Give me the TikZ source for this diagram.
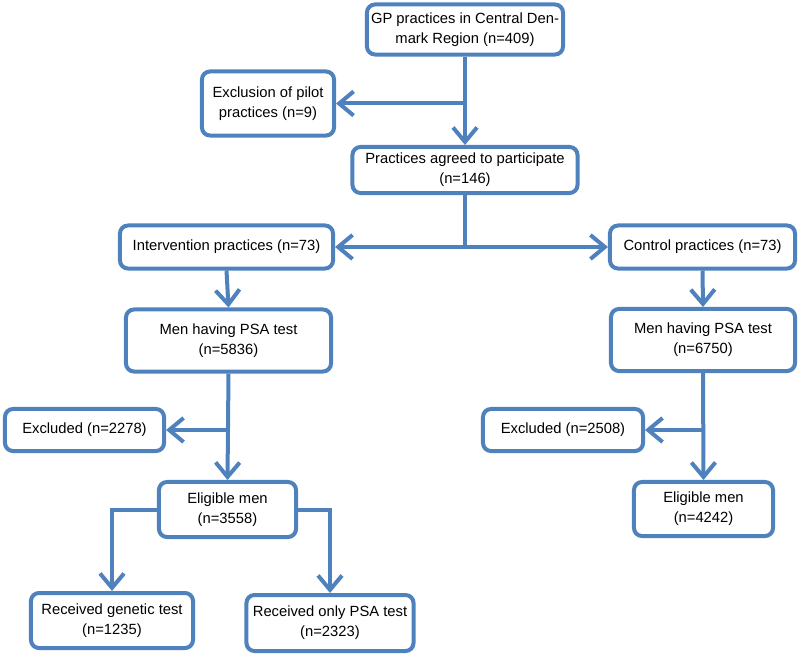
\documentclass[tikz,border=0pt]{standalone}
\usepackage{fontspec}
\setmainfont{Liberation Sans}
\usepackage{tikz}
\usetikzlibrary{calc,positioning,arrows.meta}
\definecolor{flowblue}{RGB}{79,129,189}

\begin{document}
\begin{tikzpicture}[
  x=0.025cm, y=-0.025cm,
  box/.style={rectangle,rounded corners=0.2cm,draw=flowblue,line width=0.1cm,inner sep=0pt,align=center,font=\fontsize{10.5}{14.2}\selectfont},
  link/.style={draw=flowblue,line width=0.1cm},
  >={Straight Barb[length=3.6mm,width=6mm]},
  ]

  \useasboundingbox (0,0) rectangle (800,656);

  % practices
  \node (prac_all) [box,minimum width=4.9cm,minimum height=1.25cm] at (465,29.5) {GP practices in Central Den-\\mark Region (n=409)};
  \node (prac_pilot) [box,minimum width=3.3cm,minimum height=1.6cm] at (268,103.5) {Exclusion of pilot\\practices (n=9)};
  \node (prac_agreed) [box,minimum width=5.625cm,minimum height=1.15cm] at (465,170) {Practices agreed to participate\\(n=146)};
  \node (prac_int) [box,minimum width=5.325cm,minimum height=1.075cm] at (226.5,247) {Intervention practices (n=73)};
  \node (prac_ctrl) [box,minimum width=4.625cm,minimum height=1.075cm] at (702.5,247) {Control practices (n=73)};

  % men with a PSA test
  \node (psa_int) [box,minimum width=5.125cm,minimum height=1.55cm] at (228.5,340.5) {Men having PSA test\\(n=5836)};
  \node (psa_ctrl) [box,minimum width=4.6cm,minimum height=1.55cm] at (703,340) {Men having PSA test\\(n=6750)};

  \node (excl_int) [box,minimum width=3.975cm,minimum height=1.05cm] at (84.5,430) {Excluded (n=2278)};
  \node (excl_ctrl) [box,minimum width=4.0cm,minimum height=1.05cm] at (563,430) {Excluded (n=2508)};

  \node (elig_int) [box,minimum width=3.425cm,minimum height=1.375cm] at (227.5,509.5) {Eligible men\\(n=3558)};
  \node (elig_ctrl) [box,minimum width=3.475cm,minimum height=1.35cm] at (703.5,509) {Eligible men\\(n=4242)};

  % tests
  \node (test_gen) [box,minimum width=4.05cm,minimum height=1.375cm] at (112,620.5) {Received genetic test\\(n=1235)};
  \node (test_psa) [box,minimum width=4.175cm,minimum height=1.4cm] at (330,623) {Received only PSA test\\(n=2323)};

  \draw[link,->] (prac_all.south) -- (prac_agreed.north);
  \draw[link,->] (prac_all.south |- prac_pilot.east) -- (prac_pilot.east);

  \coordinate (split) at (prac_agreed.south |- prac_int.east);
  \draw[link] (prac_agreed.south) -- (split);
  \draw[link,->] (split) -- (prac_int.east);
  \draw[link,->] (split) -- (prac_ctrl.west);

  \draw[link,->] (prac_int.south) -- (psa_int.north);
  \draw[link,->] (prac_ctrl.south) -- (psa_ctrl.north);

  \draw[link,->] (psa_int.south) -- (elig_int.north);
  \draw[link,->] (psa_int.south |- excl_int.east) -- (excl_int.east);
  \draw[link,->] (psa_ctrl.south) -- (elig_ctrl.north);
  \draw[link,->] (psa_ctrl.south |- excl_ctrl.east) -- (excl_ctrl.east);

  \draw[link,->] (elig_int.west) -| (test_gen.north);
  \draw[link,->] (elig_int.east) -| (test_psa.north);

\end{tikzpicture}
\end{document}
